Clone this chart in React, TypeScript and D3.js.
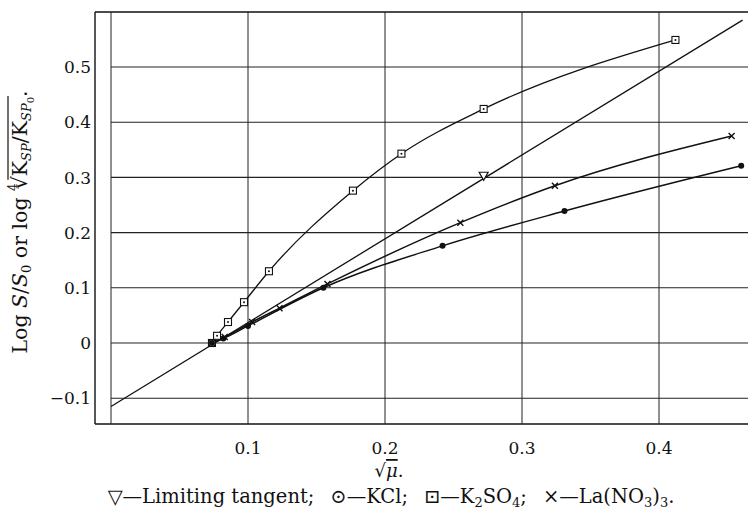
import { scaleLinear, line, curveMonotoneX } from "d3";
import { useLayoutEffect, useRef, useState } from "react";

// limiting tangent (straight line, two end points) and its marker
const tangentX = [0, 0.461];
const tangentY = [-0.115, 0.585];
const tangentMarkX = [0.272];
const tangentMarkY = [0.303];

// K2SO4 (squares)
const k2so4X = [0.0737, 0.0774, 0.0854, 0.0971, 0.1153, 0.1766, 0.212, 0.272, 0.412];
const k2so4Y = [0, 0.013, 0.038, 0.074, 0.13, 0.276, 0.343, 0.424, 0.549];

// KCl (dots)
const kclX = [0.0737, 0.082, 0.1, 0.155, 0.242, 0.331, 0.46];
const kclY = [0, 0.008, 0.031, 0.1, 0.176, 0.239, 0.321];

// La(NO3)3 (crosses)
const laX = [0.0737, 0.083, 0.103, 0.123, 0.158, 0.255, 0.324, 0.453];
const laY = [0, 0.011, 0.038, 0.063, 0.107, 0.218, 0.285, 0.375];

const xTicks = [0.1, 0.2, 0.3, 0.4];
const xGrid = [0, 0.1, 0.2, 0.3, 0.4];
const yTicks = [-0.1, 0, 0.1, 0.2, 0.3, 0.4, 0.5];
const yTickLabels = ["\u22120.1", "0", "0.1", "0.2", "0.3", "0.4", "0.5"];

const W = 750;
const H = 515;
const FONT = "'DejaVu Serif', 'Liberation Serif', serif";

export default function App() {
  const x = scaleLinear().domain([0, 0.4]).range([111, 659]);
  const y = scaleLinear().domain([0, 0.5]).range([343, 67]);

  const left = 95;
  const right = 748;
  const top = 12;
  const bottom = 424;

  const zip = (xs: number[], ys: number[]) => xs.map((v, i) => [v, ys[i]] as [number, number]);
  const curve = line<[number, number]>()
    .x((d) => x(d[0]))
    .y((d) => y(d[1]))
    .curve(curveMonotoneX);
  const straight = line<[number, number]>()
    .x((d) => x(d[0]))
    .y((d) => y(d[1]));

  const k2 = zip(k2so4X, k2so4Y);
  const kcl = zip(kclX, kclY);
  const la = zip(laX, laY);
  const tan = zip(tangentX, tangentY);
  const tanMarks = zip(tangentMarkX, tangentMarkY);

  // overline of the radical in the y title, measured after layout
  const radRef = useRef<SVGTSpanElement>(null);
  const endRef = useRef<SVGTSpanElement>(null);
  const [bar, setBar] = useState<[number, number] | null>(null);
  useLayoutEffect(() => {
    const a = radRef.current;
    const b = endRef.current;
    if (a && b) {
      const s = a.getStartPositionOfChar(0).x;
      const n = (b.textContent || "").length;
      const e = b.getEndPositionOfChar(n - 1).x;
      setBar([s + 9.5, e + 1]);
    }
  }, []);

  return (
    <svg width={W} height={H} style={{ position: "absolute", left: 0, top: 0, background: "#fff" }} fontFamily={FONT}>
      <rect x={0} y={0} width={W} height={H} fill="#fff" />

      {/* frame */}
      <line x1={left} y1={top} x2={right} y2={top} stroke="#111" strokeWidth={1.6} />
      <line x1={left} y1={bottom} x2={right} y2={bottom} stroke="#111" strokeWidth={1.6} />
      <line x1={left} y1={top} x2={left} y2={bottom} stroke="#111" strokeWidth={1.4} />

      {/* grid */}
      {xGrid.map((t) => (
        <line key={"gx" + t} x1={x(t)} x2={x(t)} y1={top} y2={bottom} stroke="#222" strokeWidth={1} />
      ))}
      {yTicks.map((t) => (
        <line key={"gy" + t} x1={x(0)} x2={right} y1={y(t)} y2={y(t)} stroke="#222" strokeWidth={1.1} />
      ))}

      {/* tick labels */}
      {yTicks.map((t, i) => (
        <text key={"ty" + t} x={91} y={y(t)} dy="0.36em" textAnchor="end" fontSize={17} fill="#111">
          {yTickLabels[i]}
        </text>
      ))}
      {xTicks.map((t) => (
        <text key={"tx" + t} x={x(t)} y={454} textAnchor="middle" fontSize={17} fill="#111">
          {t.toFixed(1)}
        </text>
      ))}

      {/* curves */}
      <path d={straight(tan) || ""} fill="none" stroke="#111" strokeWidth={1.3} />
      <path d={curve(k2) || ""} fill="none" stroke="#111" strokeWidth={1.3} />
      <path d={curve(kcl) || ""} fill="none" stroke="#111" strokeWidth={1.5} />
      <path d={curve(la) || ""} fill="none" stroke="#111" strokeWidth={1.5} />

      {/* markers */}
      {tanMarks.map((d, i) => (
        <path
          key={"tm" + i}
          d={`M${x(d[0]) - 4.5},${y(d[1]) - 3.5} L${x(d[0]) + 4.5},${y(d[1]) - 3.5} L${x(d[0])},${y(d[1]) + 4.5} Z`}
          fill="#fff"
          stroke="#111"
          strokeWidth={1.2}
        />
      ))}
      {k2.map((d, i) => (
        <g key={"k2" + i}>
          <rect x={x(d[0]) - 3.5} y={y(d[1]) - 3.5} width={7} height={7} fill="#fff" stroke="#111" strokeWidth={1.1} />
          <circle cx={x(d[0])} cy={y(d[1])} r={1} fill="#111" />
        </g>
      ))}
      {kcl.map((d, i) => (
        <circle key={"kc" + i} cx={x(d[0])} cy={y(d[1])} r={3} fill="#111" />
      ))}
      {la.map((d, i) => (
        <path
          key={"la" + i}
          d={`M${x(d[0]) - 3},${y(d[1]) - 3} L${x(d[0]) + 3},${y(d[1]) + 3} M${x(d[0]) - 3},${y(d[1]) + 3} L${x(d[0]) + 3},${y(d[1]) - 3}`}
          stroke="#111"
          strokeWidth={1.4}
        />
      ))}

      {/* y axis title */}
      <g transform="translate(27,222) rotate(-90)">
        <text textAnchor="middle" fontSize={20.5} fill="#111">
          Log <tspan fontStyle="italic">S</tspan>/<tspan fontStyle="italic">S</tspan>
          <tspan fontSize={13} dy={4}>0</tspan>
          <tspan dy={-4}> or log </tspan>
          <tspan fontSize={12} dy={-10}>4</tspan>
          <tspan ref={radRef} dx={-6} dy={10}>√</tspan>
          <tspan>K</tspan>
          <tspan fontSize={13} dy={4} fontStyle="italic">SP</tspan>
          <tspan dy={-4}>/K</tspan>
          <tspan fontSize={13} dy={4} fontStyle="italic">SP</tspan>
          <tspan ref={endRef} fontSize={10} dy={3}>0</tspan>
          <tspan dy={-7}>.</tspan>
        </text>
        {bar && <line x1={bar[0]} x2={bar[1]} y1={-19} y2={-19} stroke="#111" strokeWidth={1.2} />}
      </g>

      {/* x axis title */}
      <text x={389} y={477} textAnchor="middle" fontSize={18} fill="#111">
        √<tspan fontStyle="italic" style={{ textDecoration: "overline" }}>μ</tspan>.
      </text>

      {/* legend */}
      <text x={391} y={503} textAnchor="middle" fontSize={19.5} fill="#111">
        ▽—Limiting tangent;
        <tspan dx={16}>⊙—KCl;</tspan>
        <tspan dx={16}>⊡—K</tspan>
        <tspan fontSize={13} dy={4}>2</tspan>
        <tspan dy={-4}>SO</tspan>
        <tspan fontSize={13} dy={4}>4</tspan>
        <tspan dy={-4}>;</tspan>
        <tspan dx={16}>×—La(NO</tspan>
        <tspan fontSize={13} dy={4}>3</tspan>
        <tspan dy={-4}>)</tspan>
        <tspan fontSize={13} dy={4}>3</tspan>
        <tspan dy={-4}>.</tspan>
      </text>
    </svg>
  );
}
